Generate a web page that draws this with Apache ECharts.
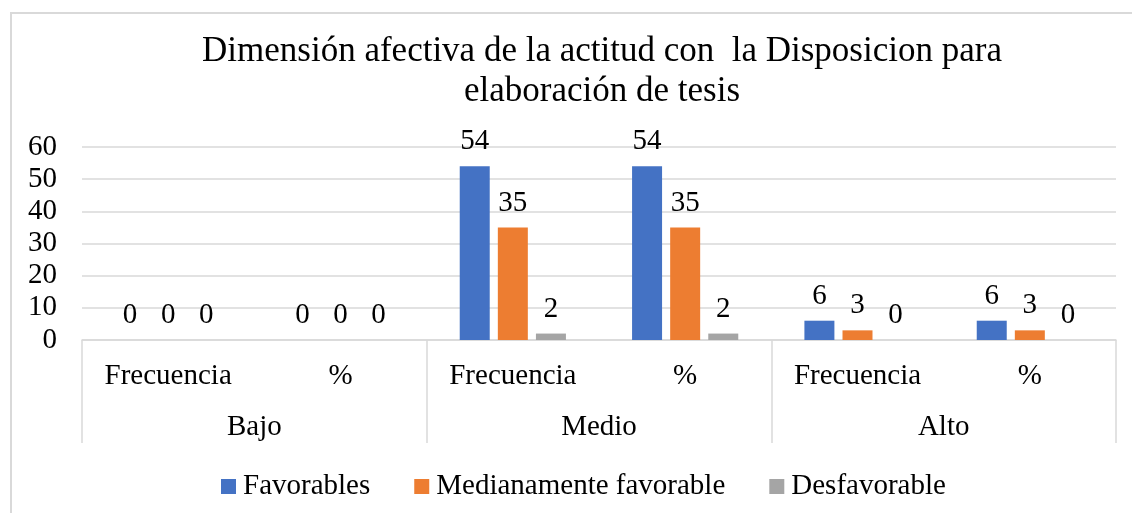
<!DOCTYPE html>
<html>
<head>
<meta charset="utf-8">
<script src="https://cdn.jsdelivr.net/npm/echarts@6/dist/echarts.min.js"></script>
<style>
html,body{margin:0;padding:0;background:#fff;}
#c{width:1132px;height:513px;}
</style>
</head>
<body>
<div id="c"></div>
<script>
const titleText = 'Dimensión afectiva de la actitud con  la Disposicion para\nelaboración de tesis';
const subCategories = ['Frecuencia', '%', 'Frecuencia', '%', 'Frecuencia', '%'];
const groups = ['Bajo', 'Medio', 'Alto'];
const seriesNames = ['Favorables', 'Medianamente favorable', 'Desfavorable'];
const favorables = [0, 0, 54, 54, 6, 6];
const medianamente = [0, 0, 35, 35, 3, 3];
const desfavorable = [0, 0, 2, 2, 0, 0];
const yTicks = [0, 10, 20, 30, 40, 50, 60];

const FONT = "'Liberation Serif', 'Times New Roman', serif";
const colors = ['#4472C4', '#ED7D31', '#A5A5A5'];
const values = [favorables, medianamente, desfavorable];

const chart = echarts.init(document.getElementById('c'), null, {renderer: 'canvas'});
chart.setOption({
  animation: false,
  backgroundColor: '#fff',
  color: colors,
  graphic: [{
    type: 'rect',
    shape: {x: 11, y: 13, width: 1300, height: 700},
    style: {fill: 'none', stroke: '#d9d9d9', lineWidth: 2},
    silent: true,
    z: -1
  }],
  title: {
    text: titleText,
    left: 597,
    top: 27,
    textAlign: 'center',
    textStyle: {fontFamily: FONT, fontSize: 35, fontWeight: 'normal', color: '#000', lineHeight: 40}
  },
  legend: {
    data: seriesNames,
    left: 216,
    top: 467,
    itemWidth: 15,
    itemHeight: 15,
    itemGap: 44,
    icon: 'rect',
    textStyle: {fontFamily: FONT, fontSize: 29, color: '#000', padding: [0, 0, 0, 2]}
  },
  grid: {left: 82, right: 16, top: 147, bottom: 173, containLabel: false},
  xAxis: [{
    type: 'category',
    data: subCategories,
    position: 'bottom',
    axisLine: {show: true, lineStyle: {color: '#d9d9d9', width: 1.5}},
    axisTick: {show: false},
    axisLabel: {fontFamily: FONT, fontSize: 29, color: '#000', margin: 22, interval: 0}
  }, {
    type: 'category',
    data: groups,
    position: 'bottom',
    axisLine: {show: false},
    axisTick: {show: true, length: 103, lineStyle: {color: '#d9d9d9', width: 1.5}},
    axisLabel: {fontFamily: FONT, fontSize: 29, color: '#000', margin: 73, interval: 0}
  }],
  yAxis: {
    type: 'value',
    min: yTicks[0],
    max: yTicks[yTicks.length - 1],
    interval: 10,
    axisLine: {show: false},
    axisTick: {show: false},
    splitLine: {lineStyle: {color: '#d9d9d9', width: 1.5}},
    axisLabel: {fontFamily: FONT, fontSize: 29, color: '#000', margin: 25}
  },
  series: seriesNames.map((name, i) => ({
    name: name,
    type: 'bar',
    xAxisIndex: 0,
    data: values[i],
    barWidth: 30,
    barGap: '27%',
    itemStyle: {color: colors[i]},
    label: {show: true, position: 'top', distance: 10, fontFamily: FONT, fontSize: 29, color: '#000'}
  }))
});
</script>
</body>
</html>
